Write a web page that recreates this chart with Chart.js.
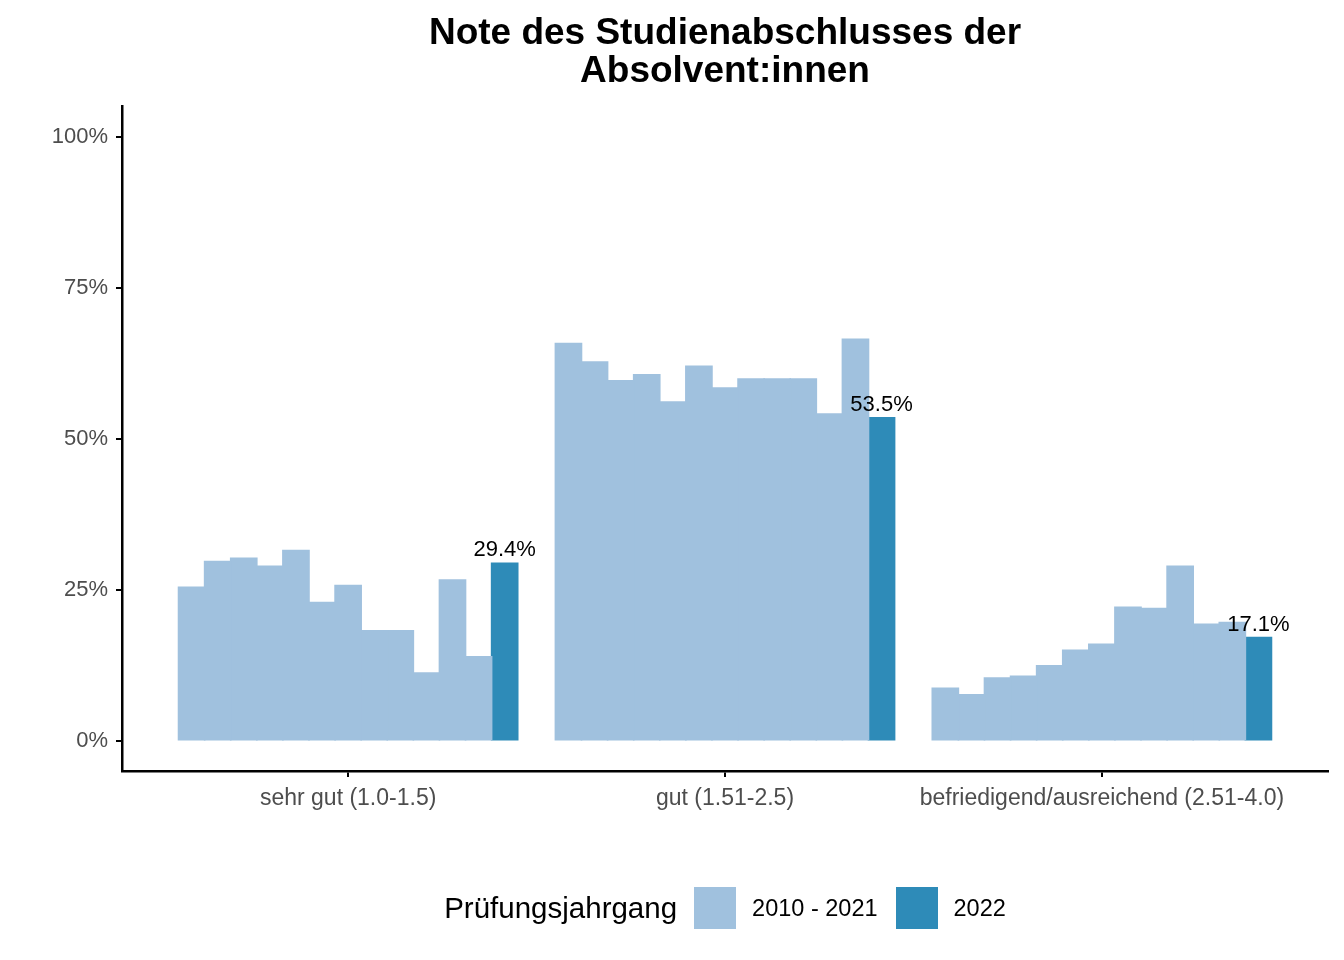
<!DOCTYPE html>
<html>
<head>
<meta charset="utf-8">
<script src="https://cdn.jsdelivr.net/npm/chart.js@4.4.1/dist/chart.umd.min.js"></script>
<style>
  html, body { margin: 0; padding: 0; background: #fff; }
  #wrap { position: relative; width: 1344px; height: 960px; }
  #legend {
    position: absolute; left: 122px; width: 1206px; top: 887px; height: 42px;
    display: flex; justify-content: center; align-items: center;
    font-family: "Liberation Sans", Arial, Helvetica, sans-serif; color: #000;
  }
  #legend .title { font-size: 29.5px; margin-right: 17px; }
  #legend .box { width: 42px; height: 42px; }
  #legend .lab { font-size: 23.5px; margin-left: 16px; margin-right: 18px; }
  #legend .lab:last-child { margin-right: 0; }
</style>
</head>
<body>
<div id="wrap">
  <canvas id="myChart" width="1344" height="960"></canvas>
  <div id="legend"></div>
</div>
<script>
// categories on the x axis
const categories = ['sehr gut (1.0-1.5)', 'gut (1.51-2.5)', 'befriedigend/ausreichend (2.51-4.0)'];
const years = ['2010', '2011', '2012', '2013', '2014', '2015', '2016', '2017', '2018', '2019', '2020', '2021', '2022'];

// share in % per year, one array per grade category
const sehrGut      = [25.4, 29.7, 30.2, 28.9, 31.5, 22.9, 25.7, 18.2, 18.2, 11.2, 26.6, 13.9, 29.4];
const gut          = [65.8, 62.7, 59.6, 60.6, 56.1, 62.0, 58.4, 59.9, 59.9, 59.9, 54.1, 66.5, 53.5];
const befriedigend = [8.7, 7.6, 10.4, 10.7, 12.4, 15.0, 16.0, 22.1, 21.9, 28.9, 19.3, 19.6, 17.1];

const yTicks = [0, 25, 50, 75, 100];
const legendLabels = ['2010 - 2021', '2022'];
const legendTitle = 'Prüfungsjahrgang';

const colors = {
	past: '#A0C1DE',
	current: '#2E8BB8',
};

const fontFamily = '"Liberation Sans", Arial, Helvetica, sans-serif';
const lastIdx = years.length - 1;

const datasets = years.map(function (yr, i) {
	const vals = [sehrGut[i], gut[i], befriedigend[i]];
	return {
		label: yr,
		data: vals.map(function (v, k) { return { x: k, y: v }; }),
		backgroundColor: i === lastIdx ? colors.current : colors.past,
		borderWidth: 0,
		inflateAmount: 0.8,
		barPercentage: 1.0,
		categoryPercentage: 0.9,
	};
});

// value labels above the 2022 bars
const barLabels = {
	id: 'barLabels',
	afterDatasetsDraw(chart) {
		const meta = chart.getDatasetMeta(lastIdx);
		const ctx = chart.ctx;
		ctx.save();
		ctx.font = '22px ' + fontFamily;
		ctx.fillStyle = '#000';
		ctx.textAlign = 'center';
		ctx.textBaseline = 'alphabetic';
		meta.data.forEach(function (bar, k) {
			const v = datasets[lastIdx].data[k].y;
			ctx.fillText(v.toFixed(1) + '%', bar.x, bar.y - 7);
		});
		ctx.restore();
	}
};

const config = {
	type: 'bar',
	data: { datasets: datasets },
	options: {
		responsive: false,
		animation: false,
		devicePixelRatio: 1,
		layout: { padding: { top: 0, left: 0, right: 16, bottom: 0 } },
		plugins: {
			legend: { display: false },
			tooltip: { enabled: false },
			title: {
				display: true,
				fullSize: false,
				text: ['Note des Studienabschlusses der', 'Absolvent:innen'],
				color: '#000',
				font: { family: fontFamily, size: 37, weight: 'bold', lineHeight: 1.05 },
				padding: { top: 14, bottom: 15 },
			},
		},
		scales: {
			x: {
				type: 'linear',
				offset: false,
				min: -0.6,
				max: 2.6,
				grid: { offset: false, drawOnChartArea: false, drawTicks: true, tickLength: 6, color: '#000', lineWidth: 2 },
				border: { display: true, color: '#000', width: 2.5 },
				ticks: {
					autoSkip: false,
					maxRotation: 0,
					padding: 8,
					color: '#4D4D4D',
					font: { family: fontFamily, size: 23 },
					callback: function (v) { return categories[v]; },
				},
				afterBuildTicks: function (s) { s.ticks = categories.map(function (c, i) { return { value: i }; }); },
				afterFit: function (s) { s.height = 189; },
			},
			y: {
				min: -5,
				max: 105,
				grid: { drawOnChartArea: false, drawTicks: true, tickLength: 6, color: '#000', lineWidth: 2 },
				border: { display: true, color: '#000', width: 2.5 },
				ticks: {
					padding: 8,
					color: '#4D4D4D',
					font: { family: fontFamily, size: 22 },
					callback: function (v) { return v + '%'; },
				},
				afterBuildTicks: function (s) { s.ticks = yTicks.map(function (v) { return { value: v }; }); },
				afterFit: function (s) { s.width = 122; },
			},
		},
	},
	plugins: [barLabels],
};

var myChart = new Chart(document.getElementById('myChart'), config);

// legend row: title, then one box per group
const legendEl = document.getElementById('legend');
let html = '<span class="title">' + legendTitle + '</span>';
html += '<span class="box" style="background:' + colors.past + '"></span><span class="lab">' + legendLabels[0] + '</span>';
html += '<span class="box" style="background:' + colors.current + '"></span><span class="lab">' + legendLabels[1] + '</span>';
legendEl.innerHTML = html;
</script>
</body>
</html>
